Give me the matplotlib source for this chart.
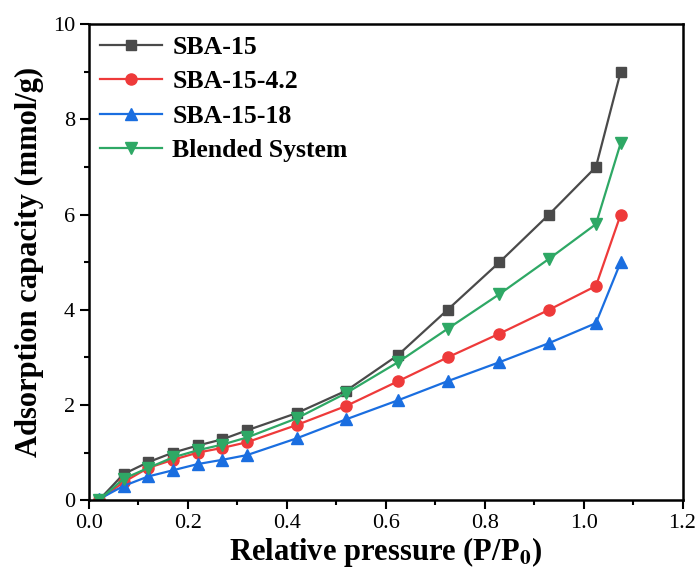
import matplotlib
matplotlib.use("Agg")
from matplotlib import pyplot as plt
from matplotlib.ticker import MultipleLocator

# relative pressure (P/P0)
pressure = [0.02, 0.07, 0.12, 0.17, 0.22, 0.27, 0.32, 0.42, 0.52, 0.625, 0.725, 0.83, 0.93, 1.025, 1.075]

sba15 = [0.0, 0.55, 0.8, 1.0, 1.15, 1.28, 1.47, 1.83, 2.3, 3.05, 4.0, 5.0, 6.0, 7.0, 9.0]
sba15_42 = [0.0, 0.38, 0.68, 0.85, 1.0, 1.1, 1.22, 1.58, 1.98, 2.5, 3.0, 3.5, 4.0, 4.5, 6.0]
sba15_18 = [0.02, 0.3, 0.5, 0.63, 0.76, 0.85, 0.95, 1.3, 1.7, 2.1, 2.5, 2.9, 3.3, 3.72, 5.0]
blended = [0.0, 0.45, 0.68, 0.9, 1.05, 1.17, 1.32, 1.72, 2.25, 2.9, 3.6, 4.33, 5.07, 5.8, 7.5]

labels = ["SBA-15", "SBA-15-4.2", "SBA-15-18", "Blended System"]

plt.rcParams["font.family"] = ["Liberation Serif", "DejaVu Serif"]
plt.rcParams["mathtext.fontset"] = "stix"

fig = plt.figure(figsize=(7, 5.75), dpi=100)
ax = fig.add_axes([0.127, 0.13, 0.848, 0.828])

ax.plot(pressure, sba15, "-s", color="#4a4a4a", lw=1.6, ms=7.5, label=labels[0])
ax.plot(pressure, sba15_42, "-o", color="#ee3a3a", lw=1.6, ms=8, label=labels[1])
ax.plot(pressure, sba15_18, "-^", color="#1a6ee0", lw=1.6, ms=8.5, label=labels[2])
ax.plot(pressure, blended, "-v", color="#2ea865", lw=1.6, ms=8.5, label=labels[3])

ax.set_xlim(0, 1.2)
ax.set_ylim(0, 10)
ax.xaxis.set_major_locator(MultipleLocator(0.2))
ax.xaxis.set_minor_locator(MultipleLocator(0.1))
ax.yaxis.set_major_locator(MultipleLocator(2))
ax.yaxis.set_minor_locator(MultipleLocator(1))
ax.tick_params(which="major", direction="out", length=6.5, width=1.5, labelsize=16)
ax.tick_params(which="minor", direction="out", length=3.5, width=1.5)
ax.set_xticklabels([f"{v:.1f}" for v in ax.get_xticks()])
for s in ax.spines.values():
    s.set_linewidth(1.8)

ax.set_xlabel("Relative pressure (P/P$_\\mathbf{0}$)", fontsize=22, fontweight="bold", labelpad=1)
ax.set_ylabel("Adsorption capacity (mmol/g)", fontsize=22, fontweight="bold", labelpad=6)

ax.legend(loc="upper left", frameon=False, prop={"weight": "bold", "size": 18.5},
          handlelength=2.4, labelspacing=0.45, borderaxespad=0.05, handletextpad=0.4)

plt.savefig("out.png")
